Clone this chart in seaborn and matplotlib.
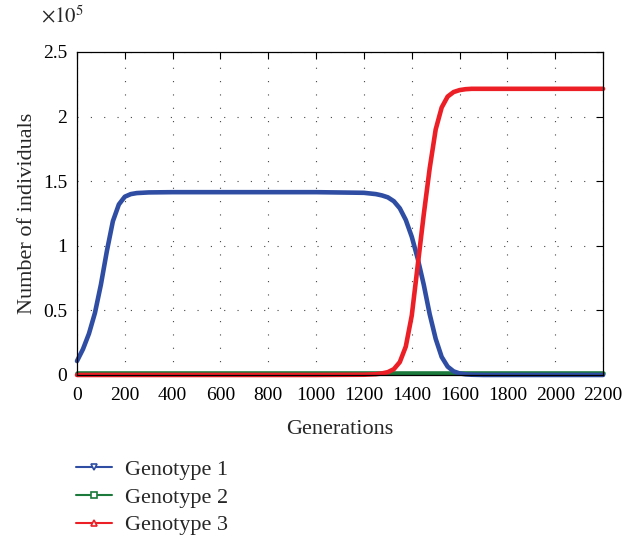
import matplotlib
matplotlib.use("Agg")
import matplotlib.pyplot as plt
import pandas as pd
import seaborn as sns
from matplotlib.lines import Line2D
from matplotlib.ticker import FuncFormatter

# Data (population sizes in units of 1e5)
generations = [0, 25, 50, 75, 100, 125, 150, 175, 200, 225, 250, 300,
               400, 600, 800, 1000, 1200, 1250, 1275, 1300, 1325, 1350,
               1375, 1400, 1425, 1450, 1475, 1500, 1525, 1550, 1575, 1600,
               1625, 1650, 1700, 1800, 2000, 2200]

genotype1 = [0.108, 0.20, 0.32, 0.48, 0.70, 0.96, 1.19, 1.32, 1.38, 1.40,
             1.408, 1.413, 1.415, 1.415, 1.415, 1.415, 1.41, 1.40, 1.39,
             1.375, 1.345, 1.29, 1.20, 1.07, 0.90, 0.70, 0.47, 0.28, 0.14,
             0.065, 0.028, 0.012, 0.005, 0.002, 0.0, 0.0, 0.0, 0.0]

genotype2 = [0.015] * len(generations)

genotype3 = [0.0, 0.0, 0.0, 0.0, 0.0, 0.0, 0.0, 0.0, 0.0, 0.0, 0.0, 0.0,
             0.0, 0.0, 0.0, 0.0, 0.002, 0.006, 0.012, 0.022, 0.045, 0.10,
             0.22, 0.46, 0.85, 1.24, 1.60, 1.90, 2.07, 2.155, 2.19, 2.205,
             2.212, 2.215, 2.215, 2.215, 2.215, 2.215]

labels = ["Genotype 1", "Genotype 2", "Genotype 3"]
colors = {"Genotype 1": "#2f4ea3", "Genotype 2": "#1b7a3c", "Genotype 3": "#ed1f26"}
legend_markers = {"Genotype 1": "v", "Genotype 2": "s", "Genotype 3": "^"}

df = pd.DataFrame({"gen": generations,
                   "Genotype 1": genotype1,
                   "Genotype 2": genotype2,
                   "Genotype 3": genotype3})

sns.set_style("white")
plt.rcParams["font.family"] = ["Liberation Serif", "DejaVu Serif"]
plt.rcParams["mathtext.fontset"] = "stix"

fig = plt.figure(figsize=(6.23, 5.37), dpi=100)
ax = fig.add_axes([0.1236, 0.3017, 0.8444, 0.6015])

# green first, then blue, red on top
for lab in ["Genotype 2", "Genotype 1", "Genotype 3"]:
    sns.lineplot(data=df, x="gen", y=lab, ax=ax, color=colors[lab],
                 linewidth=3.3, legend=False, clip_on=False)

ax.set_xlim(0, 2200)
ax.set_ylim(0, 2.5)
ax.set_xticks(range(0, 2201, 200))
ax.set_yticks([0, 0.5, 1, 1.5, 2, 2.5])
ax.yaxis.set_major_formatter(FuncFormatter(lambda v, p: f"{v:g}"))
ax.tick_params(direction="in", top=True, right=True, length=5, width=0.8,
               labelsize=14, colors="black")
ax.tick_params(axis="x", pad=9)
ax.tick_params(axis="y", pad=7)
for s in ax.spines.values():
    s.set_visible(True)
    s.set_color("black")
    s.set_linewidth(0.9)
ax.grid(True, color="#444444", linestyle=(0, (1, 11)), linewidth=0.8)

ax.set_xlabel("Generations", fontsize=16, labelpad=11)
ax.set_ylabel("Number of individuals", fontsize=16, labelpad=4)
ax.text(-0.068, 1.075, r"$\times10^5$", transform=ax.transAxes, fontsize=15,
        ha="left", va="bottom")

handles = [Line2D([0], [0], color=colors[l], lw=1.5, marker=legend_markers[l],
                  markersize=5, markerfacecolor="white",
                  markeredgecolor=colors[l], markeredgewidth=1.2)
           for l in labels]
fig.legend(handles, labels, loc="upper left", bbox_to_anchor=(0.122, 0.145),
           frameon=False, fontsize=16, handlelength=1.6, handletextpad=0.6,
           labelspacing=0.33, borderaxespad=0, borderpad=0)

fig.savefig("out.png", dpi=100)
